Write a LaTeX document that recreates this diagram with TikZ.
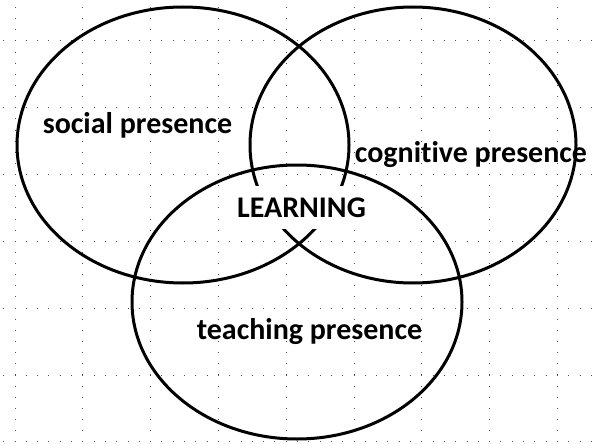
\documentclass[tikz,border=0pt]{standalone}
\usepackage{fontspec}
\setmainfont{Carlito}[Ligatures={NoCommon,NoContextual}]
\usetikzlibrary{shapes.geometric}

\begin{document}
\begin{tikzpicture}[x=1pt,y=-1pt,
	circ/.style={shape=ellipse,draw=black,line width=3pt,inner sep=0pt},
	word/.style={font=\bfseries\fontsize{30}{36}\selectfont,anchor=base},
	vdots/.style={draw=black!70,line width=1pt,dash pattern=on 1pt off 10.13pt},
	hdots/.style={draw=black!70,line width=1pt,dash pattern=on 1pt off 10.3pt}]
	\useasboundingbox (0,0) rectangle (597,444);

	% dotted grid
	\foreach \i in {0,...,8}
		\draw[vdots] ({15+\i*67.8},-4.03) -- ({15+\i*67.8},450);
	\foreach \j in {0,...,6}
		\draw[hdots] (-8.1,{41+\j*66.8}) -- (600,{41+\j*66.8});

	\node[circ,minimum width=332pt,minimum height=276pt] (social) at (183,145) {};
	\node[circ,minimum width=326pt,minimum height=276pt] (cognitive) at (413,145) {};
	\node[circ,minimum width=330pt,minimum height=274pt] (teaching) at (297,302) {};

	\node[word,anchor=center,fill=white,minimum height=43pt,inner xsep=8pt] (learning) at (301.5,207.5) {LEARNING};

	\node[word] (soc) at (137.5,133) {social presence};
	\node[word] (cog) at (471,162) {cognitive presence};
	\node[word] (teach) at (309.5,339) {teaching presence};
\end{tikzpicture}
\end{document}
